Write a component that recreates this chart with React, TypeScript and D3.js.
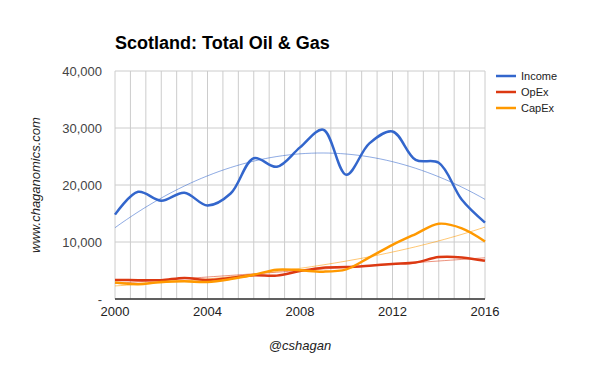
import React, { useEffect, useRef } from 'react';
import * as d3 from 'd3';

const years = [2000, 2001, 2002, 2003, 2004, 2005, 2006, 2007, 2008, 2009, 2010, 2011, 2012, 2013, 2014, 2015, 2016];
const income = [14800, 18800, 17250, 18650, 16400, 18500, 24700, 23200, 26600, 29700, 21800, 27300, 29400, 24400, 23900, 17400, 13400];
const opex = [3350, 3300, 3300, 3700, 3350, 3700, 4150, 4100, 4900, 5500, 5600, 5850, 6150, 6400, 7350, 7300, 6700];
const capex = [2900, 2600, 3000, 3100, 3000, 3500, 4250, 5150, 5050, 4800, 5200, 7300, 9500, 11400, 13200, 12400, 10100];
const yTicks = [0, 10000, 20000, 30000, 40000];
const xTicks = [2000, 2004, 2008, 2012, 2016];

const seriesList = [
  { name: 'Income', values: income, color: '#3366cc', trend: 'poly2' },
  { name: 'OpEx', values: opex, color: '#dc3912', trend: 'linear' },
  { name: 'CapEx', values: capex, color: '#ff9900', trend: 'exp' },
];

// least squares polynomial fit, returns coefficients c0..cn
function polyfit(xs: number[], ys: number[], deg: number) {
  const n = deg + 1;
  const A: number[][] = [];
  for (let i = 0; i < n; i++) {
    A.push([]);
    for (let j = 0; j < n; j++) A[i].push(d3.sum(xs, x => Math.pow(x, i + j)));
    A[i].push(d3.sum(xs.map((x, k) => Math.pow(x, i) * ys[k])));
  }
  for (let i = 0; i < n; i++) {
    for (let r = i + 1; r < n; r++) {
      const f = A[r][i] / A[i][i];
      for (let c = i; c <= n; c++) A[r][c] -= f * A[i][c];
    }
  }
  const c = new Array(n).fill(0);
  for (let i = n - 1; i >= 0; i--) {
    let s = A[i][n];
    for (let j = i + 1; j < n; j++) s -= A[i][j] * c[j];
    c[i] = s / A[i][i];
  }
  return c;
}

function trendFn(kind: string, values: number[]) {
  const xs = years.map(y => y - 2000);
  if (kind === 'exp') {
    const c = polyfit(xs, values.map(v => Math.log(v)), 1);
    return (x: number) => Math.exp(c[0] + c[1] * x);
  }
  const c = polyfit(xs, values, kind === 'poly2' ? 2 : 1);
  return (x: number) => c.reduce((s, ci, i) => s + ci * Math.pow(x, i), 0);
}

const W = 600, H = 371;
const margin = { left: 115, right: 115, top: 71, bottom: 72 };

export default function App() {
  const ref = useRef<SVGSVGElement>(null);

  useEffect(() => {
    const svg = d3.select(ref.current);
    svg.selectAll('*').remove();

    const x = d3.scaleLinear().domain([2000, 2016]).range([margin.left, W - margin.right]);
    const y = d3.scaleLinear().domain([0, 40000]).range([H - margin.bottom, margin.top]);

    svg.append('rect').attr('width', W).attr('height', H).attr('fill', '#fff');

    // title
    svg.append('text')
      .attr('x', 115).attr('y', 49)
      .attr('font-family', 'Arial, Liberation Sans, sans-serif')
      .attr('font-weight', 'bold').attr('font-size', 18)
      .attr('fill', '#000')
      .text('Scotland: Total Oil & Gas');

    // vertical grid
    const g = svg.append('g');
    d3.range(0, 25).forEach(i => {
      const xv = x(2000 + (i * 16) / 24);
      g.append('line')
        .attr('x1', xv).attr('x2', xv)
        .attr('y1', y(40000)).attr('y2', y(0))
        .attr('stroke', '#cccccc').attr('stroke-width', 1);
    });
    yTicks.forEach(t => {
      g.append('line')
        .attr('x1', x(2000)).attr('x2', x(2016))
        .attr('y1', y(t)).attr('y2', y(t))
        .attr('stroke', '#cccccc').attr('stroke-width', 1);
    });

    // y labels
    yTicks.forEach(t => {
      svg.append('text')
        .attr('x', 102).attr('y', y(t) + 5)
        .attr('text-anchor', 'end')
        .attr('font-family', 'Arial, Liberation Sans, sans-serif')
        .attr('font-size', 13).attr('fill', '#444')
        .text(t === 0 ? '-' : d3.format(',')(t));
    });

    // x labels
    xTicks.forEach(t => {
      svg.append('text')
        .attr('x', x(t)).attr('y', y(0) + 17)
        .attr('text-anchor', 'middle')
        .attr('font-family', 'Arial, Liberation Sans, sans-serif')
        .attr('font-size', 13).attr('fill', '#222')
        .text(t);
    });

    // trendlines
    const samples = d3.range(0, 16.01, 0.25);
    seriesList.forEach(s => {
      const f = trendFn(s.trend, s.values);
      const line = d3.line<number>().x(d => x(2000 + d)).y(d => y(f(d)));
      svg.append('path')
        .attr('d', line(samples))
        .attr('fill', 'none')
        .attr('stroke', s.color).attr('stroke-opacity', 0.55)
        .attr('stroke-width', 1);
    });

    // series
    seriesList.forEach(s => {
      const line = d3.line<number>()
        .x((_, i) => x(years[i]))
        .y(d => y(d))
        .curve(d3.curveCatmullRom.alpha(0.5));
      svg.append('path')
        .attr('d', line(s.values))
        .attr('fill', 'none')
        .attr('stroke', s.color)
        .attr('stroke-width', 2.5)
        .attr('stroke-linejoin', 'round');
    });

    // baseline
    svg.append('line')
      .attr('x1', x(2000)).attr('x2', x(2016))
      .attr('y1', y(0)).attr('y2', y(0))
      .attr('stroke', '#333').attr('stroke-width', 1.5);

    // legend
    seriesList.forEach((s, i) => {
      const ly = 76 + i * 16;
      svg.append('line')
        .attr('x1', 496).attr('x2', 516)
        .attr('y1', ly).attr('y2', ly)
        .attr('stroke', s.color).attr('stroke-width', 2.5);
      svg.append('text')
        .attr('x', 521).attr('y', ly + 4)
        .attr('font-family', 'Arial, Liberation Sans, sans-serif')
        .attr('font-size', 11).attr('fill', '#222')
        .text(s.name);
    });

    // side and bottom captions
    svg.append('text')
      .attr('transform', `translate(40, ${y(20000)}) rotate(-90)`)
      .attr('text-anchor', 'middle')
      .attr('font-family', 'Arial, Liberation Sans, sans-serif')
      .attr('font-style', 'italic')
      .attr('font-size', 13).attr('fill', '#222')
      .text('www.chaganomics.com');

    svg.append('text')
      .attr('x', 300).attr('y', 350)
      .attr('text-anchor', 'middle')
      .attr('font-family', 'Arial, Liberation Sans, sans-serif')
      .attr('font-style', 'italic')
      .attr('font-size', 13).attr('fill', '#222')
      .text('@cshagan');
  }, []);

  return (
    <svg ref={ref} width={W} height={H} style={{ position: 'absolute', left: 0, top: 0 }} />
  );
}
